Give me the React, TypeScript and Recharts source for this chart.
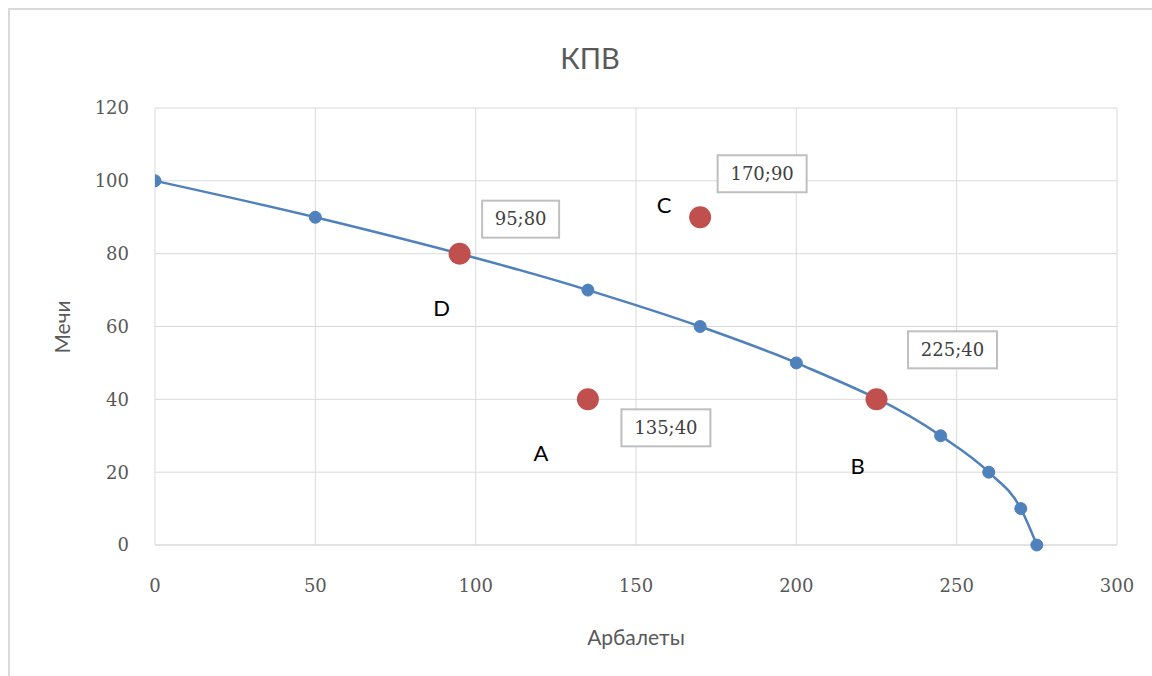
import React from 'react';
import { ComposedChart, Line, Scatter, XAxis, YAxis, CartesianGrid } from 'recharts';

const curveX = [0, 50, 135, 170, 200, 245, 260, 270, 275];
const curveY = [100, 90, 70, 60, 50, 30, 20, 10, 0];
const pointNames = ['D', 'C', 'A', 'B'];
const pointX = [95, 170, 135, 225];
const pointY = [80, 90, 40, 40];
const xTicks = [0, 50, 100, 150, 200, 250, 300];
const yTicks = [0, 20, 40, 60, 80, 100, 120];
const chartTitle = 'КПВ';
const xTitle = 'Арбалеты';
const yTitle = 'Мечи';

const curveData = curveX.map((x, i) => ({ x, y: curveY[i] }));
const pointData = pointX.map((x, i) => ({ x, y: pointY[i], name: pointNames[i] }));

// label placement (layout only), offsets in px from the marker centre
const labelLayout: Record<string, { bx: number; by: number; lx: number; ly: number }> = {
  D: { bx: 61, by: -35, lx: -18, ly: 54 },
  C: { bx: 62, by: -44, lx: -36, ly: -13 },
  A: { bx: 78, by: 28, lx: -47, ly: 53 },
  B: { bx: 76, by: -50, lx: -19, ly: 66 },
};

const serif = '"DejaVu Serif", serif';
const sans = 'Lato, "Open Sans", sans-serif';

const RedPoint = (props: any) => {
  const { cx, cy, payload } = props;
  if (cx == null || cy == null || !payload) return <g />;
  const l = labelLayout[payload.name];
  const text = `${payload.x};${payload.y}`;
  const w = 12 * text.length + 17;
  return (
    <g>
      <circle cx={cx} cy={cy} r={11} fill="#c0504d" />
      <rect x={cx + l.bx - w / 2} y={cy + l.by - 18} width={w} height={37} fill="#fff" stroke="#bfbfbf" strokeWidth={2} />
      <text x={cx + l.bx} y={cy + l.by} textAnchor="middle" dominantBaseline="central" fontFamily={serif} fontSize={18} fill="#404040">
        {text}
      </text>
      <text x={cx + l.lx} y={cy + l.ly} textAnchor="middle" dominantBaseline="central" fontFamily={sans} fontSize={22} fill="#000">
        {payload.name}
      </text>
    </g>
  );
};

export default function App() {
  return (
    <div style={{ position: 'fixed', left: 8, top: 8, width: 1144, height: 668, overflow: 'hidden', background: '#fff' }}>
      <div style={{ position: 'absolute', left: 0, top: 0, width: 1300, height: 800, borderLeft: '2px solid #d9d9d9', borderTop: '2px solid #d9d9d9' }} />
      <div style={{ position: 'absolute', left: 0, top: 0 }}>
        <ComposedChart width={1144} height={668} margin={{ top: 100, right: 35, left: 67, bottom: 71 }}>
          <CartesianGrid stroke="#d9d9d9" strokeWidth={1} />
          <XAxis
            type="number"
            dataKey="x"
            domain={[0, 300]}
            ticks={xTicks}
            height={60}
            axisLine={{ stroke: '#d9d9d9' }}
            tickLine={false}
            tickMargin={28}
            tick={{ fontFamily: serif, fontSize: 18, fill: '#595959' }}
            allowDataOverflow
          />
          <YAxis
            type="number"
            dataKey="y"
            domain={[0, 120]}
            ticks={yTicks}
            width={80}
            axisLine={false}
            tickLine={false}
            tickMargin={20}
            tick={{ fontFamily: serif, fontSize: 18, fill: '#595959' }}
          />
          <Line
            data={curveData}
            dataKey="y"
            type="monotone"
            stroke="#4f81bd"
            strokeWidth={2.5}
            dot={{ r: 6, fill: '#4f81bd', stroke: '#4f81bd', strokeWidth: 1 }}
            activeDot={false}
            isAnimationActive={false}
          />
          <Scatter data={pointData} dataKey="y" shape={RedPoint} isAnimationActive={false} />
        </ComposedChart>
      </div>
      <div style={{ position: 'absolute', left: 0, width: 1164, top: 30, textAlign: 'center', fontFamily: sans, fontSize: 29, color: '#595959', lineHeight: '40px' }}>
        {chartTitle}
      </div>
      <div style={{ position: 'absolute', left: 528, width: 200, top: 616, textAlign: 'center', fontFamily: sans, fontSize: 21, color: '#595959', lineHeight: '26px' }}>
        {xTitle}
      </div>
      <div style={{ position: 'absolute', left: 54 - 100, width: 200, top: 319 - 13, textAlign: 'center', fontFamily: sans, fontSize: 21, color: '#595959', lineHeight: '26px', transform: 'rotate(-90deg)' }}>
        {yTitle}
      </div>
    </div>
  );
}
